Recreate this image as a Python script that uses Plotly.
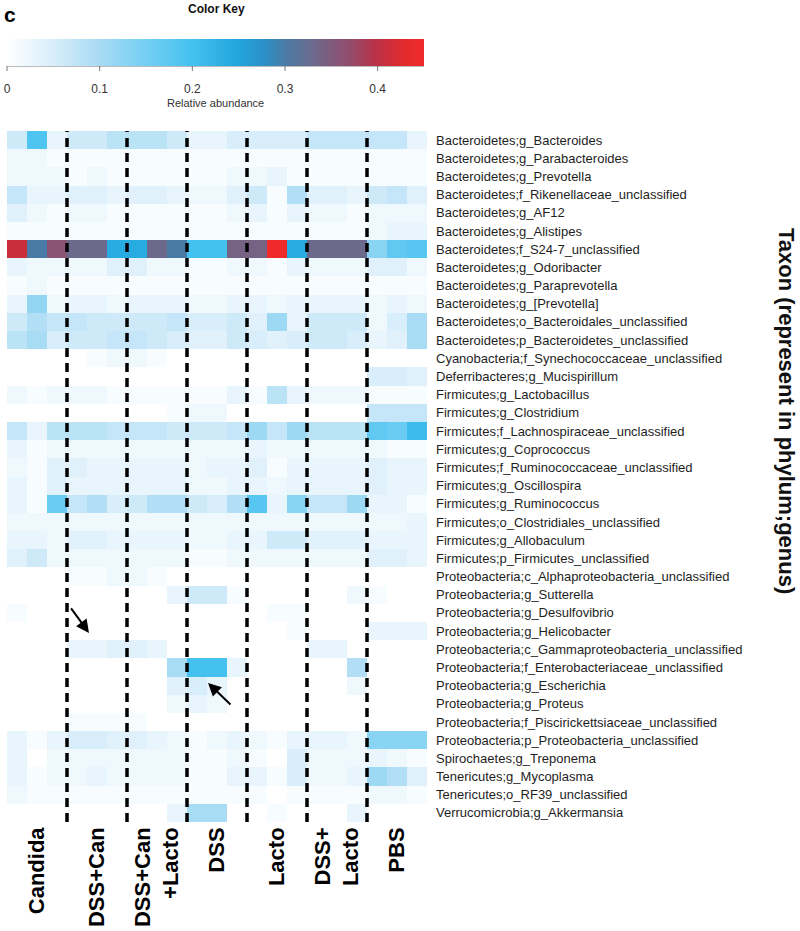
import numpy as np
import plotly.graph_objects as go

# ---------------- data ----------------
groups = ["Candida", "DSS+Can", "DSS+Can<br>+Lacto", "DSS", "Lacto", "DSS+<br>Lacto", "PBS"]

taxa = [
    "Bacteroidetes;g_Bacteroides",
    "Bacteroidetes;g_Parabacteroides",
    "Bacteroidetes;g_Prevotella",
    "Bacteroidetes;f_Rikenellaceae_unclassified",
    "Bacteroidetes;g_AF12",
    "Bacteroidetes;g_Alistipes",
    "Bacteroidetes;f_S24-7_unclassified",
    "Bacteroidetes;g_Odoribacter",
    "Bacteroidetes;g_Paraprevotella",
    "Bacteroidetes;g_[Prevotella]",
    "Bacteroidetes;o_Bacteroidales_unclassified",
    "Bacteroidetes;p_Bacteroidetes_unclassified",
    "Cyanobacteria;f_Synechococcaceae_unclassified",
    "Deferribacteres;g_Mucispirillum",
    "Firmicutes;g_Lactobacillus",
    "Firmicutes;g_Clostridium",
    "Firmicutes;f_Lachnospiraceae_unclassified",
    "Firmicutes;g_Coprococcus",
    "Firmicutes;f_Ruminococcaceae_unclassified",
    "Firmicutes;g_Oscillospira",
    "Firmicutes;g_Ruminococcus",
    "Firmicutes;o_Clostridiales_unclassified",
    "Firmicutes;g_Allobaculum",
    "Firmicutes;p_Firmicutes_unclassified",
    "Proteobacteria;c_Alphaproteobacteria_unclassified",
    "Proteobacteria;g_Sutterella",
    "Proteobacteria;g_Desulfovibrio",
    "Proteobacteria;g_Helicobacter",
    "Proteobacteria;c_Gammaproteobacteria_unclassified",
    "Proteobacteria;f_Enterobacteriaceae_unclassified",
    "Proteobacteria;g_Escherichia",
    "Proteobacteria;g_Proteus",
    "Proteobacteria;f_Piscirickettsiaceae_unclassified",
    "Proteobacteria;p_Proteobacteria_unclassified",
    "Spirochaetes;g_Treponema",
    "Tenericutes;g_Mycoplasma",
    "Tenericutes;o_RF39_unclassified",
    "Verrucomicrobia;g_Akkermansia",
]

# relative abundance, 3 samples per group, one triple per taxon (same order as taxa)
candida = [
    [0.06, 0.19, 0.03], [0.02, 0.02, 0.01], [0.02, 0.02, 0.02], [0.07, 0.03, 0.03],
    [0.04, 0.02, 0.01], [0.01, 0.01, 0.01], [0.41, 0.30, 0.36], [0.03, 0.02, 0.02],
    [0.01, 0.02, 0.01], [0.03, 0.12, 0.02], [0.06, 0.09, 0.07], [0.08, 0.10, 0.05],
    [0.00, 0.00, 0.00], [0.00, 0.00, 0.00], [0.02, 0.01, 0.02], [0.00, 0.00, 0.00],
    [0.07, 0.03, 0.08], [0.03, 0.01, 0.02], [0.02, 0.01, 0.04], [0.03, 0.01, 0.04],
    [0.03, 0.01, 0.16], [0.02, 0.02, 0.02], [0.03, 0.03, 0.02], [0.04, 0.06, 0.02],
    [0.00, 0.00, 0.00], [0.00, 0.00, 0.00], [0.01, 0.00, 0.00], [0.00, 0.00, 0.00],
    [0.00, 0.00, 0.00], [0.00, 0.00, 0.00], [0.00, 0.00, 0.00], [0.00, 0.00, 0.00],
    [0.00, 0.00, 0.00], [0.03, 0.01, 0.03], [0.03, 0.00, 0.02], [0.03, 0.01, 0.02],
    [0.02, 0.01, 0.01], [0.00, 0.00, 0.00],
]
dss_can = [
    [0.06, 0.06, 0.08], [0.01, 0.01, 0.01], [0.01, 0.02, 0.01], [0.04, 0.04, 0.03],
    [0.02, 0.02, 0.01], [0.01, 0.01, 0.01], [0.33, 0.33, 0.24], [0.02, 0.02, 0.04],
    [0.01, 0.01, 0.01], [0.03, 0.03, 0.02], [0.07, 0.06, 0.06], [0.06, 0.06, 0.07],
    [0.00, 0.01, 0.02], [0.00, 0.00, 0.00], [0.02, 0.02, 0.01], [0.00, 0.00, 0.00],
    [0.08, 0.08, 0.07], [0.02, 0.02, 0.02], [0.04, 0.03, 0.03], [0.03, 0.03, 0.03],
    [0.07, 0.09, 0.05], [0.02, 0.02, 0.02], [0.04, 0.04, 0.03], [0.02, 0.02, 0.02],
    [0.01, 0.01, 0.02], [0.00, 0.00, 0.00], [0.00, 0.00, 0.00], [0.00, 0.00, 0.00],
    [0.03, 0.03, 0.04], [0.00, 0.00, 0.00], [0.00, 0.00, 0.00], [0.00, 0.00, 0.00],
    [0.01, 0.01, 0.01], [0.05, 0.05, 0.04], [0.02, 0.02, 0.02], [0.02, 0.03, 0.02],
    [0.01, 0.01, 0.01], [0.00, 0.00, 0.00],
]
dss_can_lacto = [
    [0.08, 0.08, 0.06], [0.01, 0.01, 0.01], [0.01, 0.01, 0.01], [0.04, 0.04, 0.03],
    [0.01, 0.01, 0.01], [0.01, 0.01, 0.01], [0.24, 0.33, 0.30], [0.04, 0.02, 0.02],
    [0.01, 0.01, 0.01], [0.03, 0.03, 0.03], [0.06, 0.06, 0.07], [0.07, 0.06, 0.05],
    [0.02, 0.01, 0.00], [0.00, 0.00, 0.00], [0.01, 0.01, 0.01], [0.00, 0.00, 0.01],
    [0.07, 0.07, 0.06], [0.02, 0.02, 0.02], [0.03, 0.03, 0.03], [0.03, 0.03, 0.03],
    [0.06, 0.09, 0.09], [0.02, 0.02, 0.02], [0.03, 0.03, 0.03], [0.02, 0.02, 0.02],
    [0.02, 0.01, 0.00], [0.00, 0.00, 0.03], [0.00, 0.00, 0.00], [0.00, 0.00, 0.00],
    [0.04, 0.03, 0.00], [0.00, 0.00, 0.10], [0.00, 0.00, 0.04], [0.00, 0.00, 0.02],
    [0.01, 0.00, 0.00], [0.04, 0.03, 0.02], [0.02, 0.02, 0.02], [0.02, 0.02, 0.02],
    [0.01, 0.01, 0.01], [0.00, 0.00, 0.03],
]
dss = [
    [0.03, 0.03, 0.05], [0.01, 0.01, 0.01], [0.01, 0.01, 0.02], [0.02, 0.02, 0.04],
    [0.01, 0.01, 0.02], [0.01, 0.01, 0.01], [0.20, 0.20, 0.34], [0.01, 0.01, 0.02],
    [0.01, 0.01, 0.01], [0.02, 0.02, 0.03], [0.05, 0.05, 0.06], [0.04, 0.04, 0.06],
    [0.00, 0.00, 0.00], [0.00, 0.00, 0.00], [0.01, 0.01, 0.03], [0.02, 0.02, 0.00],
    [0.06, 0.06, 0.07], [0.02, 0.02, 0.02], [0.02, 0.03, 0.03], [0.02, 0.02, 0.03],
    [0.06, 0.05, 0.09], [0.02, 0.02, 0.02], [0.02, 0.02, 0.03], [0.01, 0.01, 0.02],
    [0.00, 0.00, 0.00], [0.06, 0.06, 0.01], [0.00, 0.00, 0.00], [0.00, 0.00, 0.00],
    [0.00, 0.00, 0.00], [0.20, 0.20, 0.03], [0.05, 0.03, 0.00], [0.03, 0.02, 0.00],
    [0.00, 0.00, 0.00], [0.01, 0.02, 0.03], [0.01, 0.01, 0.02], [0.01, 0.01, 0.03],
    [0.01, 0.01, 0.01], [0.10, 0.10, 0.00],
]
lacto = [
    [0.05, 0.05, 0.05], [0.01, 0.01, 0.01], [0.02, 0.03, 0.01], [0.06, 0.01, 0.09],
    [0.03, 0.01, 0.03], [0.01, 0.01, 0.01], [0.34, 0.45, 0.24], [0.02, 0.01, 0.03],
    [0.01, 0.01, 0.01], [0.03, 0.02, 0.03], [0.04, 0.11, 0.03], [0.05, 0.04, 0.05],
    [0.00, 0.00, 0.00], [0.00, 0.00, 0.00], [0.01, 0.08, 0.03], [0.00, 0.00, 0.00],
    [0.11, 0.07, 0.11], [0.03, 0.02, 0.02], [0.04, 0.01, 0.03], [0.03, 0.02, 0.03],
    [0.18, 0.03, 0.13], [0.02, 0.02, 0.02], [0.03, 0.06, 0.06], [0.02, 0.02, 0.02],
    [0.00, 0.00, 0.00], [0.00, 0.00, 0.00], [0.00, 0.01, 0.01], [0.00, 0.00, 0.01],
    [0.00, 0.00, 0.00], [0.00, 0.00, 0.00], [0.00, 0.00, 0.00], [0.00, 0.00, 0.00],
    [0.00, 0.00, 0.00], [0.02, 0.01, 0.03], [0.01, 0.00, 0.05], [0.03, 0.01, 0.05],
    [0.01, 0.00, 0.01], [0.00, 0.01, 0.00],
]
dss_lacto = [
    [0.07, 0.07, 0.07], [0.01, 0.01, 0.01], [0.01, 0.01, 0.01], [0.04, 0.04, 0.03],
    [0.02, 0.02, 0.01], [0.01, 0.01, 0.01], [0.33, 0.33, 0.33], [0.02, 0.02, 0.02],
    [0.01, 0.01, 0.01], [0.03, 0.03, 0.03], [0.06, 0.06, 0.06], [0.06, 0.06, 0.05],
    [0.00, 0.00, 0.00], [0.00, 0.00, 0.00], [0.02, 0.02, 0.02], [0.00, 0.00, 0.00],
    [0.08, 0.08, 0.08], [0.02, 0.02, 0.02], [0.03, 0.03, 0.03], [0.03, 0.03, 0.03],
    [0.07, 0.07, 0.11], [0.02, 0.02, 0.02], [0.04, 0.04, 0.04], [0.02, 0.02, 0.02],
    [0.00, 0.00, 0.00], [0.00, 0.00, 0.02], [0.00, 0.00, 0.00], [0.00, 0.00, 0.00],
    [0.03, 0.03, 0.00], [0.00, 0.00, 0.09], [0.00, 0.00, 0.02], [0.00, 0.00, 0.00],
    [0.00, 0.00, 0.00], [0.03, 0.03, 0.02], [0.02, 0.02, 0.02], [0.02, 0.02, 0.03],
    [0.01, 0.01, 0.01], [0.00, 0.00, 0.03],
]
pbs = [
    [0.07, 0.07, 0.03], [0.01, 0.01, 0.01], [0.01, 0.01, 0.01], [0.06, 0.07, 0.04],
    [0.02, 0.02, 0.02], [0.02, 0.03, 0.03], [0.13, 0.17, 0.18], [0.04, 0.04, 0.02],
    [0.01, 0.01, 0.01], [0.02, 0.03, 0.02], [0.02, 0.05, 0.10], [0.03, 0.04, 0.10],
    [0.00, 0.00, 0.00], [0.05, 0.05, 0.04], [0.01, 0.01, 0.01], [0.07, 0.07, 0.07],
    [0.17, 0.16, 0.21], [0.02, 0.01, 0.01], [0.04, 0.03, 0.03], [0.04, 0.03, 0.03],
    [0.03, 0.03, 0.01], [0.02, 0.02, 0.03], [0.03, 0.03, 0.03], [0.04, 0.04, 0.03],
    [0.00, 0.00, 0.00], [0.01, 0.00, 0.00], [0.00, 0.00, 0.00], [0.03, 0.03, 0.03],
    [0.00, 0.00, 0.00], [0.00, 0.00, 0.00], [0.00, 0.00, 0.00], [0.00, 0.00, 0.00],
    [0.00, 0.00, 0.00], [0.13, 0.13, 0.13], [0.03, 0.02, 0.01], [0.11, 0.09, 0.04],
    [0.02, 0.02, 0.01], [0.00, 0.00, 0.00],
]

colorbar_ticks = [0, 0.1, 0.2, 0.3, 0.4]
z_max = 0.45

# ---------------- figure ----------------
group_blocks = [candida, dss_can, dss_can_lacto, dss, lacto, dss_lacto, pbs]
z = np.hstack([np.array(b) for b in group_blocks])
n_per_group = [np.array(b).shape[1] for b in group_blocks]
n_cols = z.shape[1]
edges = np.cumsum(n_per_group)
centers = [e - n / 2 - 0.5 for e, n in zip(edges, n_per_group)]

stops = [
    (0.00, "#ffffff"), (0.05, "#d8eefa"), (0.10, "#a8dbf4"), (0.15, "#74cff3"),
    (0.20, "#44c1ef"), (0.25, "#21a5dc"), (0.28, "#2d8fc4"), (0.30, "#4a7ba6"),
    (0.33, "#6c6a8c"), (0.37, "#944c6c"), (0.40, "#bc3046"), (0.43, "#e42a2c"),
    (0.45, "#f02a2a"),
]
colorscale = [[v / z_max, c] for v, c in stops]

FONT = "Liberation Sans, Arial, sans-serif"

# pixel layout helpers
W, H = 800, 931
L, R, T, B = 7, 373, 131, 109
PW, PH = W - L - R, H - T - B


def px(x):
    return (x - L) / PW


def py(y):
    return (H - B - y) / PH


CB_LEN = 417
CB_TOP, CB_BOT = 39, 66

fig = go.Figure(
    go.Heatmap(
        z=z,
        x=list(range(n_cols)),
        y=list(range(len(taxa))),
        colorscale=colorscale,
        zmin=0,
        zmax=z_max,
        colorbar=dict(
            orientation="h",
            x=0, xanchor="left",
            y=py(CB_TOP), yanchor="top",
            lenmode="pixels", len=CB_LEN,
            thickness=CB_BOT - CB_TOP,
            xpad=0, ypad=0,
            outlinewidth=0,
            tickmode="array",
            tickvals=colorbar_ticks,
            ticktext=[f"{t:g}" for t in colorbar_ticks],
            ticks="outside", ticklen=13, tickcolor="rgba(0,0,0,0)", tickwidth=1,
            tickfont=dict(family=FONT, size=12, color="#333"),
        ),
        hoverinfo="skip",
    )
)

shapes = []
for e in edges[:-1]:
    shapes.append(dict(
        type="line", xref="x", yref="paper",
        x0=e - 0.5, x1=e - 0.5, y0=0, y1=1,
        line=dict(color="black", width=3.5, dash="9px,6px"),
    ))
# baseline and tick marks under the color key
cb_frac = CB_LEN / PW
shapes.append(dict(
    type="line", xref="paper", yref="paper",
    x0=0, x1=cb_frac, y0=py(CB_BOT), y1=py(CB_BOT),
    line=dict(color="#777", width=1),
))
for t in colorbar_ticks:
    xt = t / z_max * cb_frac
    shapes.append(dict(
        type="line", xref="paper", yref="paper",
        x0=xt, x1=xt, y0=py(CB_BOT), y1=py(CB_BOT + 5),
        line=dict(color="#777", width=1),
    ))


def label(text, x, y, size, color="#111", angle=0):
    return dict(text=text, x=px(x), y=py(y), xref="paper", yref="paper",
                xanchor="center", yanchor="middle", textangle=angle,
                showarrow=False, font=dict(family=FONT, size=size, color=color))


annotations = [
    label("<b>c</b>", 10, 15, 21, "black"),
    label("<b>Color Key</b>", 216, 9, 12),
    label("Relative abundance", 215, 103, 11, "#333"),
    label("<b>Taxon (represent in phylum;genus)</b>", 787, 411, 22, angle=90),
    # arrows
    dict(x=3.6, y=27.1, xref="x", yref="y", ax=-19, ay=-26, axref="pixel", ayref="pixel",
         text="", showarrow=True, arrowhead=2, arrowsize=1.3, arrowwidth=2, arrowcolor="black"),
    dict(x=9.55, y=29.85, xref="x", yref="y", ax=24, ay=23, axref="pixel", ayref="pixel",
         text="", showarrow=True, arrowhead=2, arrowsize=1.3, arrowwidth=2, arrowcolor="black"),
]

fig.update_layout(
    width=W, height=H,
    margin=dict(l=L, r=R, t=T, b=B, autoexpand=False),
    paper_bgcolor="white", plot_bgcolor="white",
    shapes=shapes,
    annotations=annotations,
    xaxis=dict(
        range=[-0.5, n_cols - 0.5],
        tickmode="array", tickvals=centers, ticktext=groups,
        tickangle=-90, ticks="", showgrid=False, zeroline=False, showline=False,
        tickfont=dict(family=FONT, size=22, color="black", weight="bold"),
        ticklabelstandoff=0, automargin=False,
    ),
    yaxis=dict(
        range=[len(taxa) - 0.5, -0.5],
        side="right",
        tickmode="array", tickvals=list(range(len(taxa))), ticktext=taxa,
        ticks="", showgrid=False, zeroline=False, showline=False,
        tickfont=dict(family=FONT, size=13, color="#1e1e1e"),
        ticklabelstandoff=8, automargin=False,
    ),
)

fig.write_html(
    "out.html",
    config={"displayModeBar": False, "staticPlot": True},
    post_script="document.body.style.margin='0';document.body.style.overflow='hidden';",
)
